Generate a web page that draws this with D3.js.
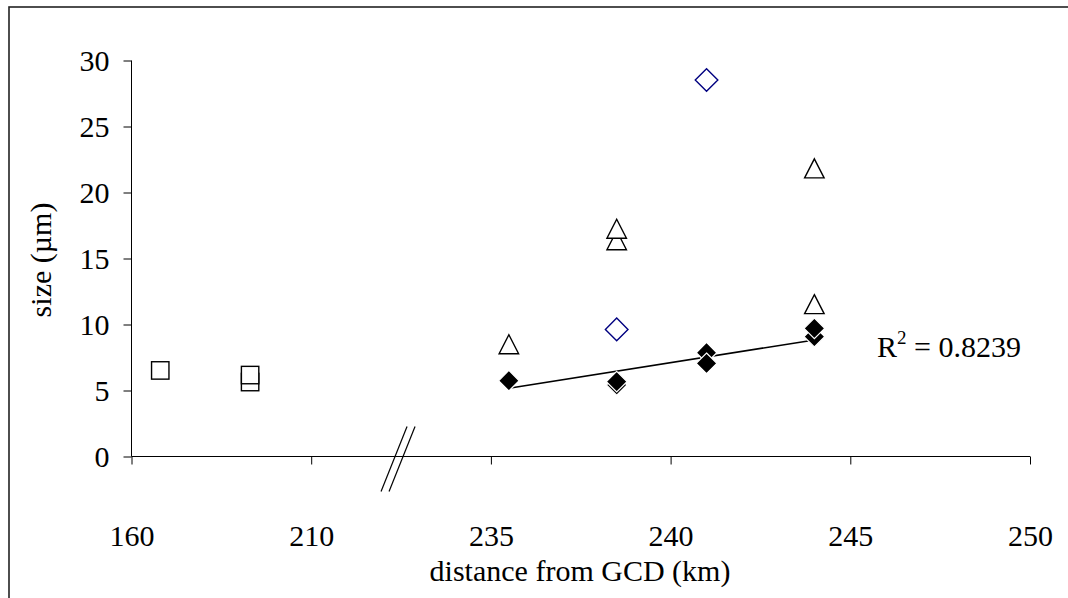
<!DOCTYPE html>
<html><head><meta charset="utf-8">
<script src="https://cdn.jsdelivr.net/npm/d3@7"></script>
<style>
html,body{margin:0;padding:0;background:#fff;}
</style></head>
<body>
<svg id="chart" width="1068" height="598"></svg>
<script>
// ---- data ----
const xTicks = [160, 210, 235, 240, 245, 250];
const yTicks = [0, 5, 10, 15, 20, 25, 30];
const squaresX = [168, 193, 193];
const squaresY = [6.52, 5.64, 6.17];
const trianglesX = [235.5, 238.5, 238.5, 244, 244];
const trianglesY = [8.5, 16.38, 17.25, 11.54, 21.83];
const openDiamondsX = [238.5, 241];
const openDiamondsY = [9.63, 28.52];
const filledDiamondsX = [235.5, 238.5, 238.5, 241, 241, 244, 244];
const filledDiamondsY = [5.74, 5.42, 5.67, 7.86, 7.06, 9.08, 9.71];
const trendX = [235.5, 244];
const trendY = [5.17, 8.83];
const breakAt = 222.5;
const r2Label = "0.8239";
const xTitle = "distance from GCD (km)";
const yTitle = "size (\u00b5m)";

// ---- layout ----
const FONT = "'Liberation Serif', 'DejaVu Serif', serif";
const svg = d3.select("#chart");
const x = d3.scaleLinear().domain([160, 210, 235, 250]).range([131.5, 311.2, 490.9, 1030]);
const y = d3.scaleLinear().domain([0, 30]).range([456.5, 60.5]);
const FS = 30;

// outer frame
svg.append("rect").attr("x", 9).attr("y", 7).attr("width", 1200).attr("height", 800)
  .attr("fill", "none").attr("stroke", "#222").attr("stroke-width", 1.6);

// axes
const xAxis = d3.axisBottom(x).tickValues(xTicks).tickSize(8).tickSizeOuter(0).tickFormat(d3.format("d"));
const gx = svg.append("g").attr("transform", `translate(0,${y(0)})`).call(xAxis);
gx.selectAll("text").attr("dy", 0).attr("y", 89);
const yAxis = d3.axisLeft(y).tickValues(yTicks).tickSize(8).tickSizeOuter(0);
const gy = svg.append("g").attr("transform", `translate(${x(160)},0)`).call(yAxis);
gy.selectAll("text").attr("x", -22).attr("dy", "0.34em");
[gx, gy].forEach(g => g.attr("font-family", FONT).attr("font-size", FS)
  .selectAll("text").attr("fill", "#000").attr("font-family", FONT).attr("font-size", FS));
svg.selectAll(".domain, .tick line").attr("stroke", "#000").attr("stroke-width", 1);
gx.select(".domain").attr("d", `M${x(160)},0H${x(250)}`);
gy.select(".domain").attr("d", `M0,${y(0)}V${y(30)}`);

// axis break marks
const bx = x(breakAt);
[-4, 4].forEach(off => {
  svg.append("line")
    .attr("x1", bx - 16 + off).attr("y1", y(0) + 35)
    .attr("x2", bx + 10 + off).attr("y2", y(0) - 30)
    .attr("stroke", "#000").attr("stroke-width", 1.2);
});

// titles
svg.append("text").attr("x", 580).attr("y", 581).attr("text-anchor", "middle")
  .attr("font-family", FONT).attr("font-size", FS).text(xTitle);
svg.append("text").attr("transform", `translate(51,260) rotate(-90)`).attr("text-anchor", "middle")
  .attr("font-family", FONT).attr("font-size", FS).text(yTitle);

// trendline
svg.append("line")
  .attr("x1", x(trendX[0])).attr("y1", y(trendY[0]))
  .attr("x2", x(trendX[1])).attr("y2", y(trendY[1]))
  .attr("stroke", "#000").attr("stroke-width", 1.6);

// markers
const sq = 8.7;
svg.append("g").selectAll("rect").data(d3.range(squaresX.length)).join("rect")
  .attr("x", i => x(squaresX[i]) - sq).attr("y", i => y(squaresY[i]) - sq)
  .attr("width", sq * 2).attr("height", sq * 2)
  .attr("fill", "#fff").attr("stroke", "#000").attr("stroke-width", 1.4);

const tri = (cx, cy, w, h) => `M${cx},${cy - h / 2}L${cx + w / 2},${cy + h / 2}L${cx - w / 2},${cy + h / 2}Z`;
svg.append("g").selectAll("path").data(d3.range(trianglesX.length)).join("path")
  .attr("d", i => tri(x(trianglesX[i]), y(trianglesY[i]), 19.5, 19))
  .attr("fill", "#fff").attr("stroke", "#000").attr("stroke-width", 1.4);

const dia = (cx, cy, r) => `M${cx},${cy - r}L${cx + r},${cy}L${cx},${cy + r}L${cx - r},${cy}Z`;
svg.append("g").selectAll("path").data(d3.range(openDiamondsX.length)).join("path")
  .attr("d", i => dia(x(openDiamondsX[i]), y(openDiamondsY[i]), 11.3))
  .attr("fill", "#fff").attr("stroke", "#000080").attr("stroke-width", 1.4);

svg.append("g").selectAll("path").data(d3.range(filledDiamondsX.length)).join("path")
  .attr("d", i => dia(x(filledDiamondsX[i]), y(filledDiamondsY[i]), 10.3))
  .attr("fill", "#000").attr("stroke", "#fff").attr("stroke-width", 1.2);

// R squared label
const rt = svg.append("text").attr("x", 877).attr("y", 357)
  .attr("font-family", FONT).attr("font-size", FS);
rt.append("tspan").text("R");
rt.append("tspan").attr("font-size", 19).attr("dy", -13).text("2");
rt.append("tspan").attr("dy", 13).text(" = " + r2Label);
</script>
</body></html>
